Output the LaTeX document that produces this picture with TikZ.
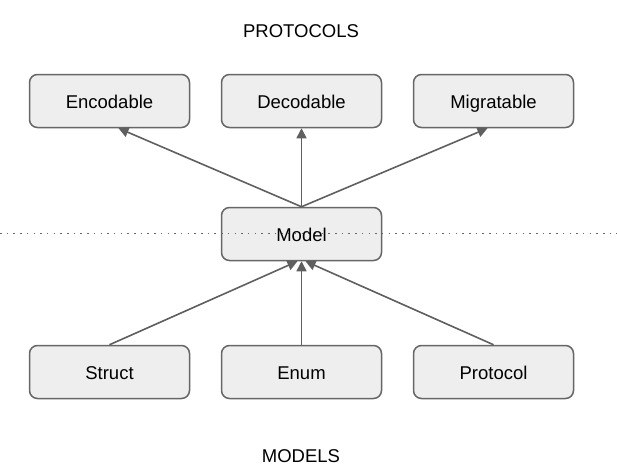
\documentclass[tikz,border=0pt]{standalone}
\usepackage{fontspec}
\setmainfont{Liberation Sans}
\usetikzlibrary{arrows.meta}

\definecolor{boxfill}{HTML}{EEEEEE}
\definecolor{boxline}{HTML}{666666}
\definecolor{arrowgray}{HTML}{5F5F5F}

\tikzset{
  box/.style={draw=boxline, fill=boxfill, line width=1.5pt, rounded corners=8pt,
    minimum width=160pt, minimum height=53pt, inner sep=0pt,
    text height=18pt, text depth=3.6pt,
    font=\fontsize{18.5}{22}\selectfont},
  title/.style={font=\fontsize{18.5}{22}\selectfont},
  link/.style={draw=arrowgray, line width=1.6pt, -{Triangle[length=10pt,width=10pt]}}
}

\begin{document}
\begin{tikzpicture}[x=1pt,y=-1pt]
\useasboundingbox (0,0) rectangle (617,474);

\node[title] (prot) at (301,31) {PROTOCOLS};
\node[title] (mods) at (301,456) {MODELS};

\node[box] (enc) at (109.5,101) {Encodable};
\node[box] (dec) at (301.5,101) {Decodable};
\node[box] (mig) at (493.5,101) {Migratable};
\node[box] (model) at (301.5,234) {};
\node[box] (struct) at (109.5,372) {Struct};
\node[box] (enum) at (301.5,372) {Enum};
\node[box] (proto) at (493.5,372) {Protocol};

   % dotted border line runs over the model box
   \draw[boxline, line width=1.5pt, dash pattern=on 1.5pt off 5.2pt] (0,233.5) -- (617,233.5);
\node[box, draw=none, fill=none] (modeltext) at (model) {Model};

   \draw[link] (model.north) -- ([xshift=9pt]enc.south);
   \draw[link] (model.north) -- (dec.south);
   \draw[link] (model.north) -- ([xshift=-6pt]mig.south);

   \draw[link] (struct.north) -- ([xshift=-4pt]model.south);
   \draw[link] (enum.north) -- (model.south);
   \draw[link] (proto.north) -- ([xshift=4pt]model.south);
\end{tikzpicture}
\end{document}
